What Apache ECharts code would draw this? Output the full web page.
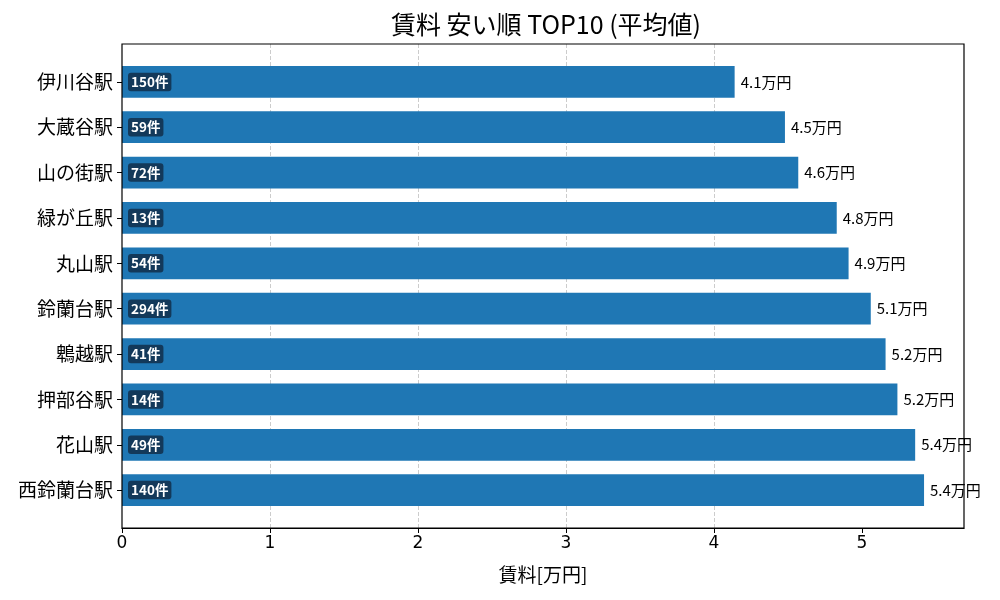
<!DOCTYPE html>
<html><head><meta charset="utf-8">
<script src="https://cdn.jsdelivr.net/npm/echarts@6/dist/echarts.min.js"></script>
<style>html,body{margin:0;padding:0;background:#fff}#c{width:1000px;height:600px}</style>
</head><body><div id="c"></div>
<script>
const stations = ['伊川谷駅','大蔵谷駅','山の街駅','緑が丘駅','丸山駅','鈴蘭台駅','鵯越駅','押部谷駅','花山駅','西鈴蘭台駅'];
const rents = [4.14, 4.48, 4.57, 4.83, 4.91, 5.06, 5.16, 5.24, 5.36, 5.42];
const counts = [150, 59, 72, 13, 54, 294, 41, 14, 49, 140];
const xTicks = [0, 1, 2, 3, 4, 5];

const FONT = '"Noto Sans CJK JP", "Noto Sans", sans-serif';
const TICKFONT = '"DejaVu Sans", sans-serif';
const L = 122, R = 36, T = 44, B = 72;
const plotH = 600 - T - B;           // 484
const unit = plotH / 10.67;          // px per category unit
const pad = (0.835 - 0.5) * unit;

const chart = echarts.init(document.getElementById('c'), null, {renderer: 'canvas'});
chart.setOption({
  animation: false,
  backgroundColor: '#fff',
  title: {
    text: '賃料 安い順 TOP10 (平均値)',
    left: (L + (1000 - R)) / 2 - 2, top: 7, textAlign: 'center',
    textStyle: {fontFamily: FONT, fontSize: 25, fontWeight: 'normal', color: '#000'}
  },
  grid: [
    {left: L, right: R, top: T, bottom: B, show: true, borderColor: '#000', borderWidth: 1.2, backgroundColor: 'transparent', z: 5},
    {left: L, right: R, top: T + pad, bottom: B + pad}
  ],
  xAxis: [
    {
      gridIndex: 0, type: 'value', min: 0, max: 5.69, interval: 1,
      name: '賃料[万円]', nameLocation: 'middle', nameGap: 37,
      nameTextStyle: {fontFamily: FONT, fontSize: 19, color: '#000'},
      axisLine: {show: true, onZero: false, lineStyle: {color: '#000', width: 1.2}},
      axisTick: {show: true, length: 5, customValues: xTicks, lineStyle: {color: '#000'}},
      axisLabel: {fontFamily: TICKFONT, fontSize: 17, color: '#000', margin: 7,
        customValues: xTicks,
        formatter: v => xTicks.includes(v) ? String(v) : ''},
      splitLine: {show: true, showMaxLine: false, showMinLine: false,
        lineStyle: {color: '#cccccc', type: [4, 2], width: 1}}
    },
    {
      gridIndex: 1, type: 'value', min: 0, max: 5.69, show: false
    }
  ],
  yAxis: [
    {gridIndex: 0, type: 'value', min: 0, max: 1, show: false},
    {
      gridIndex: 1, type: 'category', data: stations, inverse: true,
      axisLine: {show: false},
      axisTick: {show: true, alignWithLabel: true, length: 5, lineStyle: {color: '#000'}},
      axisLabel: {fontFamily: FONT, fontSize: 19, color: '#000', margin: 9},
      splitLine: {show: false}
    }
  ],
  series: [
    {
      type: 'bar', xAxisIndex: 1, yAxisIndex: 1, data: rents,
      barWidth: 0.7 * unit,
      itemStyle: {color: '#1f77b4'},
      label: {show: true, position: 'right', distance: 6,
        fontFamily: FONT, fontSize: 15, color: '#000',
        formatter: p => p.value.toFixed(1) + '万円'}
    },
    {
      type: 'bar', xAxisIndex: 1, yAxisIndex: 1, data: rents,
      barWidth: 0.7 * unit, barGap: '-100%',
      itemStyle: {color: 'transparent'},
      label: {show: true, position: 'insideLeft', distance: 6,
        fontFamily: FONT, fontSize: 13.5, fontWeight: 'bold', color: '#fff',
        backgroundColor: 'rgba(18,52,82,0.92)', borderRadius: 3,
        padding: [3, 3, 2, 3],
        formatter: p => counts[p.dataIndex] + '件'}
    }
  ]
});
</script></body></html>
